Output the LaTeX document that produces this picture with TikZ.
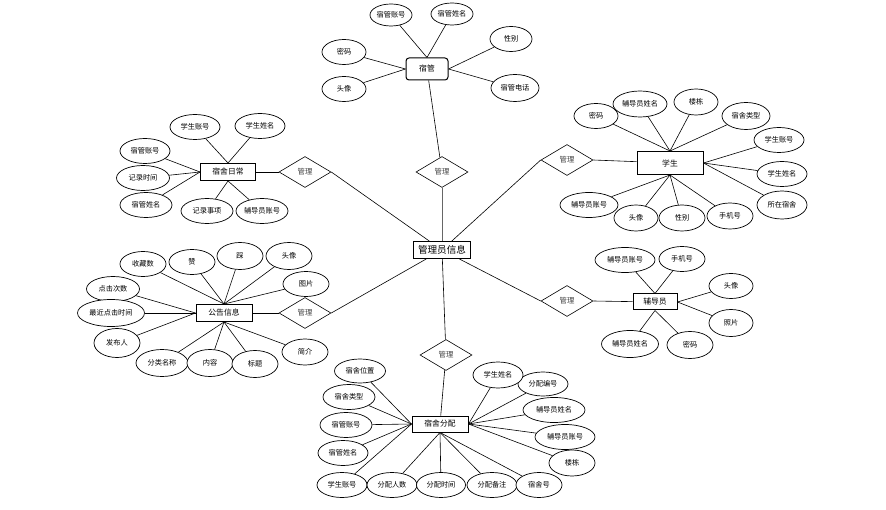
\documentclass[tikz,border=0pt]{standalone}
\usepackage{fontspec}
\newfontfamily\cjk{Noto Sans CJK SC}
\usetikzlibrary{shapes.geometric,backgrounds}
\begin{document}
\begin{tikzpicture}[x=1pt,y=-1pt,
 attr/.style={ellipse,draw,fill=white,line width=0.7pt,minimum width=46pt,minimum height=25pt,inner sep=0pt,font=\cjk\fontsize{7.2}{8}\selectfont},
 ent/.style={rectangle,draw,line width=1pt,fill=white,inner sep=0pt,font=\cjk\fontsize{7.8}{9}\selectfont},
 rel/.style={diamond,draw,fill=white,line width=0.6pt,aspect=1.7,minimum width=52pt,minimum height=31pt,inner sep=0pt,font=\cjk\fontsize{7.4}{8}\selectfont,text=black!75},
 link/.style={draw,line width=0.6pt}]
\useasboundingbox (0,0) rectangle (886,510);

% central
\node[ent,minimum width=57pt,minimum height=17pt,font=\cjk\fontsize{9.6}{10}\selectfont] (admin) at (442,250) {管理员信息};

% 宿管
\node[ent,rounded corners=3pt,minimum width=42pt,minimum height=22pt] (sg) at (427,69) {宿管};
\node[attr,minimum width=42pt,minimum height=22pt] (sg1) at (391,15) {宿管账号};
\node[attr,minimum width=42pt,minimum height=22pt] (sg2) at (452,14) {宿管姓名};
\node[attr,minimum width=42pt,minimum height=25pt] (sg3) at (511,39) {性别};
\node[attr,minimum width=44pt,minimum height=25pt] (sg4) at (344,52) {密码};
\node[attr,minimum width=44pt,minimum height=25pt] (sg5) at (344,89) {头像};
\node[attr,minimum width=48pt,minimum height=27pt] (sg6) at (515,88) {宿管电话};
\node[rel] (r1) at (442,172) {管理};

% 学生
\node[ent,minimum width=66pt,minimum height=23pt] (st) at (670,163) {学生};
\node[rel] (r2) at (567,160) {管理};
\node[attr,minimum width=44pt] (st1) at (596,116) {密码};
\node[attr,minimum width=54pt,minimum height=26pt] (st2) at (640,104) {辅导员姓名};
\node[attr,minimum width=44pt,minimum height=26pt] (st3) at (696,102) {楼栋};
\node[attr,minimum width=48pt,minimum height=27pt] (st4) at (746,116) {宿舍类型};
\node[attr,minimum width=50pt] (st5) at (779,140) {学生账号};
\node[attr,minimum width=50pt] (st6) at (782,174) {学生姓名};
\node[attr,minimum width=50pt,minimum height=28pt] (st7) at (782,205) {所在宿舍};
\node[attr,minimum width=58pt] (st8) at (589,205) {辅导员账号};
\node[attr,minimum width=44pt,minimum height=26pt] (st9) at (636,218) {头像};
\node[attr,minimum width=46pt,minimum height=26pt] (st10) at (682,218) {性别};
\node[attr,minimum width=46pt,minimum height=26pt] (st11) at (730,216) {手机号};

% 宿舍日常
\node[ent,minimum width=55pt,minimum height=17pt] (rc) at (228,172) {宿舍日常};
\node[rel] (r3) at (305,172) {管理};
\node[attr,minimum width=50pt] (rc1) at (195,127) {学生账号};
\node[attr,minimum width=50pt] (rc2) at (260,126) {学生姓名};
\node[attr,minimum width=50pt] (rc3) at (145,151) {宿管账号};
\node[attr,minimum width=53pt] (rc4) at (143,178) {记录时间};
\node[attr,minimum width=52pt] (rc5) at (146,205) {宿管姓名};
\node[attr,minimum width=52pt] (rc6) at (207,211) {记录事项};
\node[attr,minimum width=52pt] (rc7) at (262,211) {辅导员账号};

% 公告信息
\node[ent,minimum width=56pt,minimum height=17pt] (gg) at (224,313) {公告信息};
\node[rel] (r4) at (305,313) {管理};
\node[attr] (gg1) at (143,264) {收藏数};
\node[attr] (gg2) at (192,262) {赞};
\node[attr,minimum height=27pt] (gg3) at (240,256) {踩};
\node[attr,minimum height=27pt] (gg4) at (289,256) {头像};
\node[attr] (gg5) at (306,284) {图片};
\node[attr,minimum width=53pt] (gg6) at (113,289) {点击次数};
\node[attr,minimum width=67pt,minimum height=27pt] (gg7) at (111,313) {最近点击时间};
\node[attr,minimum width=46pt,minimum height=29pt] (gg8) at (117,343) {发布人};
\node[attr,minimum width=52pt,minimum height=27pt] (gg9) at (162,363) {分类名称};
\node[attr,minimum height=27pt] (gg10) at (210,363) {内容};
\node[attr,minimum height=27pt] (gg11) at (255,364) {标题};
\node[attr,minimum height=26pt] (gg12) at (305,352) {简介};

% 辅导员
\node[ent,minimum width=44pt,minimum height=16pt] (fd) at (655,302) {辅导员};
\node[rel] (r5) at (567,301) {管理};
\node[attr,minimum width=60pt] (fd1) at (625,260) {辅导员账号};
\node[attr] (fd2) at (682,259) {手机号};
\node[attr,minimum width=44pt] (fd3) at (731,286) {头像};
\node[attr,minimum width=44pt,minimum height=27pt] (fd4) at (731,323) {照片};
\node[attr,minimum width=57pt,minimum height=27pt] (fd5) at (630,344) {辅导员姓名};
\node[attr,minimum height=27pt] (fd6) at (690,345) {密码};

% 宿舍分配
\node[ent,minimum width=56pt,minimum height=16pt] (fp) at (440,424) {宿舍分配};
\node[rel] (r6) at (446,355) {管理};
\node[attr,minimum width=51pt,minimum height=24pt] (fp1) at (360,371) {宿舍位置};
\node[attr,minimum width=52pt] (fp2) at (349,397) {宿舍类型};
\node[attr,minimum width=52pt] (fp3) at (346,425) {宿管账号};
\node[attr,minimum width=50pt] (fp4) at (343,453) {宿管姓名};
\node[attr,minimum width=50pt] (fp5) at (342,485) {学生账号};
\node[attr,minimum width=50pt] (fp6) at (392,485) {分配人数};
\node[attr,minimum width=49pt] (fp7) at (441,485) {分配时间};
\node[attr,minimum width=50pt] (fp8) at (492,485) {分配备注};
\node[attr,minimum width=46pt] (fp9) at (539,485) {宿舍号};
\node[attr,minimum width=46pt,minimum height=26pt] (fp10) at (572,463) {楼栋};
\node[attr,minimum width=60pt] (fp11) at (565,437) {辅导员账号};
\node[attr,minimum width=62pt] (fp12) at (554,410) {辅导员姓名};
\node[attr,minimum width=50pt,minimum height=24pt] (fp13) at (543,384) {分配编号};
\node[attr,minimum width=50pt,minimum height=26pt] (fp14) at (498,375) {学生姓名};

\begin{scope}[on background layer]
 \draw[link,line width=1pt,draw=black!60] (admin) -- (r1);
 \draw[link] (admin) -- (r2.west);
 \draw[link] (admin) -- (r3.east);
 \draw[link] (admin) -- (r4.east);
 \draw[link] (admin) -- (r5.west);
 \draw[link] (admin) -- (r6);
 \draw[link] (r1) -- (sg);
 \draw[link] (r2.east) -- (st);
 \draw[link] (r3.west) -- (rc);
 \draw[link] (r4.west) -- (gg);
 \draw[link] (r5.east) -- (fd);
 \draw[link] (r6) -- (fp);
 % 宿管
 \foreach \i in {1,2} \draw[link] (sg.north) -- (sg\i);
 \foreach \i in {3,6} \draw[link] (sg.east) -- (sg\i);
 \foreach \i in {4,5} \draw[link] (sg.west) -- (sg\i);
 % 学生
 \foreach \i in {1,2,3,4} \draw[link] (st.north) -- (st\i);
 \foreach \i in {5,6,7} \draw[link] (st.east) -- (st\i);
 \foreach \i in {8,9,10,11} \draw[link] (st.south) -- (st\i);
 % 宿舍日常
 \foreach \i in {1,2} \draw[link] (rc.north) -- (rc\i);
 \foreach \i in {3,4,5} \draw[link] (rc.west) -- (rc\i);
 \foreach \i in {6,7} \draw[link] (rc.south) -- (rc\i);
 % 公告信息
 \foreach \i in {1,2,3,4,5} \draw[link] (gg.north) -- (gg\i);
 \foreach \i in {6,7,8} \draw[link] (gg.west) -- (gg\i);
 \foreach \i in {9,10,11,12} \draw[link] (gg.south) -- (gg\i);
 % 辅导员
 \foreach \i in {1,2} \draw[link] (fd.north) -- (fd\i);
 \foreach \i in {3,4} \draw[link] (fd.east) -- (fd\i);
 \foreach \i in {5,6} \draw[link] (fd.south) -- (fd\i);
 % 宿舍分配
 \foreach \i in {1,2,3,4,5} \draw[link] (fp.west) -- (fp\i);
 \foreach \i in {6,7,8,9} \draw[link] (fp.south) -- (fp\i);
 \foreach \i in {10,11,12,13,14} \draw[link] (fp.east) -- (fp\i);
\end{scope}
\end{tikzpicture}
\end{document}
